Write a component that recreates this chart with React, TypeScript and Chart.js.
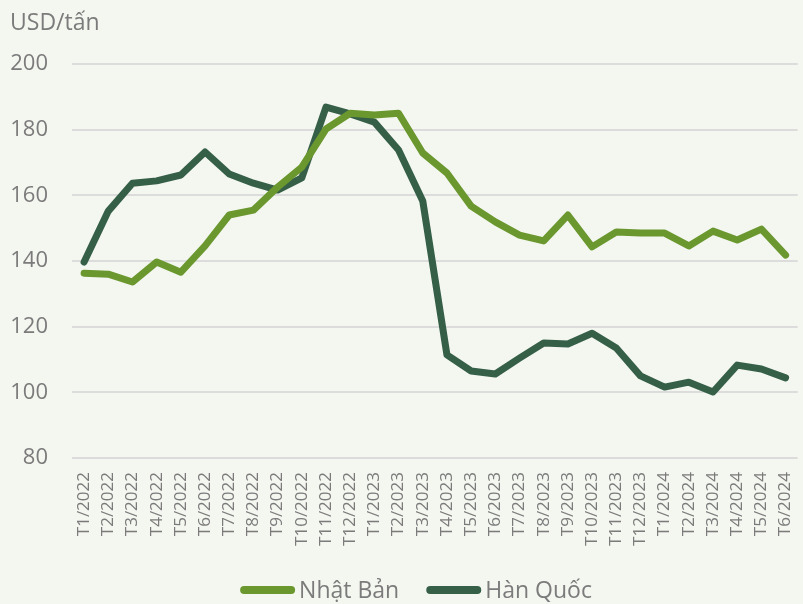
import React, { useEffect, useRef } from "react";
import { Chart, registerables } from "chart.js";

Chart.register(...registerables);

const categories = [
  "T1/2022", "T2/2022", "T3/2022", "T4/2022", "T5/2022", "T6/2022", "T7/2022", "T8/2022", "T9/2022", "T10/2022", "T11/2022", "T12/2022",
  "T1/2023", "T2/2023", "T3/2023", "T4/2023", "T5/2023", "T6/2023", "T7/2023", "T8/2023", "T9/2023", "T10/2023", "T11/2023", "T12/2023",
  "T1/2024", "T2/2024", "T3/2024", "T4/2024", "T5/2024", "T6/2024",
];

const japanValues = [
  136.3, 136.0, 133.6, 139.7, 136.6, 144.6, 154.0, 155.5, 162.5, 168.6, 180.2, 185.0,
  184.5, 185.0, 172.9, 166.8, 156.7, 151.9, 147.9, 146.1, 154.0, 144.3, 148.8, 148.5,
  148.5, 144.6, 149.1, 146.4, 149.7, 141.8,
];

const koreaValues = [
  139.7, 155.2, 163.7, 164.4, 166.2, 173.2, 166.5, 163.7, 161.6, 165.3, 186.9, 184.8,
  182.3, 173.8, 158.3, 111.4, 106.5, 105.6, 110.4, 115.0, 114.7, 118.0, 113.5, 105.0,
  101.6, 103.1, 100.1, 108.3, 107.1, 104.4,
];

const seriesNames = ["Nhật Bản", "Hàn Quốc"];
const seriesColors = ["#6a982f", "#365f48"];
const yTitle = "USD/tấn";

const FONT = "'Open Sans', sans-serif";
const GRAY = "#7b7b7b";

const overlayPlugin = {
  id: "overlay",
  afterDraw(chart: any) {
    const ctx = chart.ctx;
    ctx.save();
    // axis unit title
    ctx.fillStyle = GRAY;
    ctx.font = `23px ${FONT}`;
    ctx.textBaseline = "alphabetic";
    ctx.textAlign = "left";
    ctx.fillText(yTitle, 10, 30);

    // legend
    ctx.font = `23px ${FONT}`;
    const lineW = 55;
    const gapText = 4;
    const gapItem = 27;
    const widths = chart.data.datasets.map((d: any) => ctx.measureText(d.label).width);
    const total = widths.reduce((a: number, w: number) => a + lineW + gapText + w, 0) + gapItem * (widths.length - 1);
    let x = 416 - total / 2;
    const cy = 590;
    chart.data.datasets.forEach((d: any, i: number) => {
      ctx.strokeStyle = d.borderColor;
      ctx.lineWidth = 8;
      ctx.lineCap = "round";
      ctx.beginPath();
      ctx.moveTo(x + 4, cy);
      ctx.lineTo(x + lineW - 4, cy);
      ctx.stroke();
      x += lineW + gapText;
      ctx.fillStyle = GRAY;
      ctx.fillText(d.label, x, 598);
      x += widths[i] + gapItem;
    });
    ctx.restore();
  },
};

export default function App() {
  const ref = useRef<HTMLCanvasElement | null>(null);

  useEffect(() => {
    if (!ref.current) return;
    const chart = new Chart(ref.current, {
      type: "line",
      data: {
        labels: categories,
        datasets: [
          {
            label: seriesNames[0],
            data: japanValues,
            borderColor: seriesColors[0],
            backgroundColor: seriesColors[0],
            borderWidth: 7,
            pointRadius: 0,
            tension: 0,
            borderCapStyle: "round",
            borderJoinStyle: "round",
          },
          {
            label: seriesNames[1],
            data: koreaValues,
            borderColor: seriesColors[1],
            backgroundColor: seriesColors[1],
            borderWidth: 7,
            pointRadius: 0,
            tension: 0,
            borderCapStyle: "round",
            borderJoinStyle: "round",
          },
        ],
      },
      plugins: [overlayPlugin],
      options: {
        animation: false,
        responsive: false,
        maintainAspectRatio: false,
        layout: { padding: { left: 0, right: 0, top: 64, bottom: 46 } },
        scales: {
          x: {
            offset: true,
            grid: { display: false },
            border: { display: false },
            ticks: {
              color: GRAY,
              font: { family: FONT, size: 17 },
              minRotation: 90,
              maxRotation: 90,
              autoSkip: false,
              padding: 6,
            },
            afterFit: (s: any) => {
              s.height = 100;
            },
          },
          y: {
            min: 80,
            max: 200,
            grid: { color: "#dcdcdc", lineWidth: 2, drawTicks: false },
            border: { display: false },
            ticks: {
              stepSize: 20,
              color: GRAY,
              font: { family: FONT, size: 22 },
              padding: 24,
            },
            afterFit: (s: any) => {
              s.width = 72;
            },
          },
        },
        plugins: {
          title: { display: false },
          legend: { display: false },
          tooltip: { enabled: false },
        },
      },
    });
    return () => chart.destroy();
  }, []);

  return (
    <div
      style={{
        position: "fixed",
        left: 0,
        top: 0,
        width: 803,
        height: 604,
        overflow: "hidden",
        background: "#f4f6f0",
      }}
    >
      <canvas ref={ref} width={812} height={604} style={{ display: "block", width: 812, height: 604 }} />
    </div>
  );
}
